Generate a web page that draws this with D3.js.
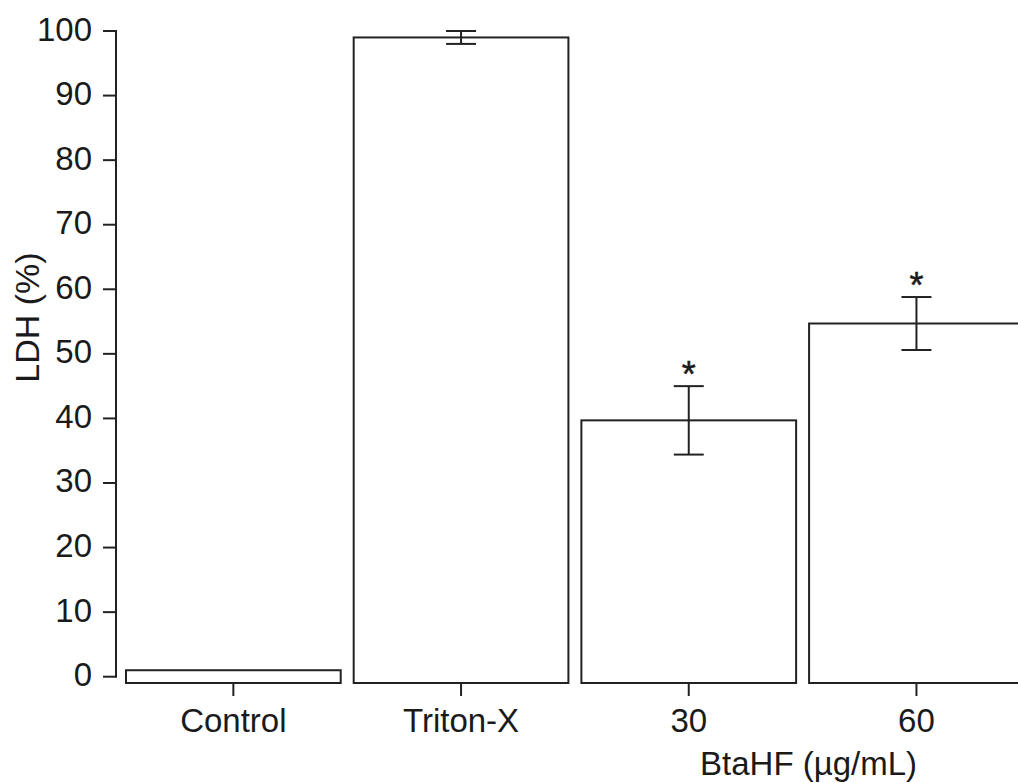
<!DOCTYPE html>
<html>
<head>
<meta charset="utf-8">
<script src="https://cdn.jsdelivr.net/npm/d3@7"></script>
<style>
  html, body { margin: 0; padding: 0; background: #fff; }
  svg { display: block; }
  text { font-family: "Liberation Sans", Arial, sans-serif; fill: #1a1a1a; }
</style>
</head>
<body>
<svg id="chart" width="1018" height="783"></svg>
<script>
// LDH release (% of maximum) per treatment, mean ± SEM
const categories = ["Control", "Triton-X", "30", "60"];
const means = [1.0, 99.0, 39.7, 54.7];
const sems = [0, 1.0, 5.3, 4.1];
const significant = [false, false, true, true];
const yTicks = [0, 10, 20, 30, 40, 50, 60, 70, 80, 90, 100];
const yLabel = "LDH (%)";
const groupLabel = "BtaHF (µg/mL)";

const svg = d3.select("#chart");
const ink = "#222";
const fontSize = 33;

const y = d3.scaleLinear().domain([0, 100]).range([676.7, 31]);
const x = d3.scaleBand()
  .domain(categories)
  .range([119.5, 1030.3])
  .paddingInner(0.057)
  .paddingOuter(0.0285);

const barBottom = y(0) + 6.3;   // bars sit on an offset baseline below zero
const axisX = 116;

// Y axis
const yAxis = svg.append("g");
yAxis.append("line")
  .attr("x1", axisX).attr("x2", axisX)
  .attr("y1", y(0)).attr("y2", y(100))
  .attr("stroke", ink).attr("stroke-width", 2).attr("stroke-linecap", "square");
yAxis.selectAll("line.tick").data(yTicks).join("line")
  .attr("class", "tick")
  .attr("x1", axisX - 13).attr("x2", axisX)
  .attr("y1", d => y(d)).attr("y2", d => y(d))
  .attr("stroke", ink).attr("stroke-width", 2);
yAxis.selectAll("text").data(yTicks).join("text")
  .attr("x", 92).attr("y", d => y(d) + 9.5)
  .attr("text-anchor", "end")
  .attr("font-size", fontSize)
  .text(d => d);

svg.append("text")
  .attr("transform", `translate(38.5,317.5) rotate(-90)`)
  .attr("text-anchor", "middle")
  .attr("font-size", 34)
  .text(yLabel);

// Bars
svg.append("g").selectAll("rect").data(categories).join("rect")
  .attr("x", d => x(d))
  .attr("width", x.bandwidth())
  .attr("y", (d, i) => y(means[i]))
  .attr("height", (d, i) => barBottom - y(means[i]))
  .attr("fill", "#fff")
  .attr("stroke", ink).attr("stroke-width", 2);

// Error bars with significance markers
const cap = 15;
const err = svg.append("g");
categories.forEach((c, i) => {
  if (!sems[i]) return;
  const cx = x(c) + x.bandwidth() / 2;
  const hi = y(means[i] + sems[i]);
  const lo = y(means[i] - sems[i]);
  err.append("line").attr("x1", cx).attr("x2", cx).attr("y1", hi).attr("y2", lo)
    .attr("stroke", ink).attr("stroke-width", 2);
  [hi, lo].forEach(v => err.append("line")
    .attr("x1", cx - cap).attr("x2", cx + cap).attr("y1", v).attr("y2", v)
    .attr("stroke", ink).attr("stroke-width", 2));
  if (significant[i]) {
    err.append("text")
      .attr("x", cx).attr("y", hi + 1)
      .attr("text-anchor", "middle")
      .attr("font-size", 36)
      .attr("stroke", "#1a1a1a").attr("stroke-width", 0.5)
      .text("*");
  }
});

// X ticks and labels
const xAxis = svg.append("g");
xAxis.selectAll("line").data(categories).join("line")
  .attr("x1", d => x(d) + x.bandwidth() / 2).attr("x2", d => x(d) + x.bandwidth() / 2)
  .attr("y1", barBottom).attr("y2", barBottom + 13)
  .attr("stroke", ink).attr("stroke-width", 2);
xAxis.selectAll("text").data(categories).join("text")
  .attr("x", d => x(d) + x.bandwidth() / 2)
  .attr("y", 732)
  .attr("text-anchor", "middle")
  .attr("font-size", fontSize)
  .text(d => d);

// Concentration group label under the BtaHF bars
const gx = (x("30") + x("60") + x.bandwidth()) / 2;
svg.append("text")
  .attr("x", gx + 6).attr("y", 775)
  .attr("text-anchor", "middle")
  .attr("font-size", fontSize)
  .text(groupLabel);
</script>
</body>
</html>
